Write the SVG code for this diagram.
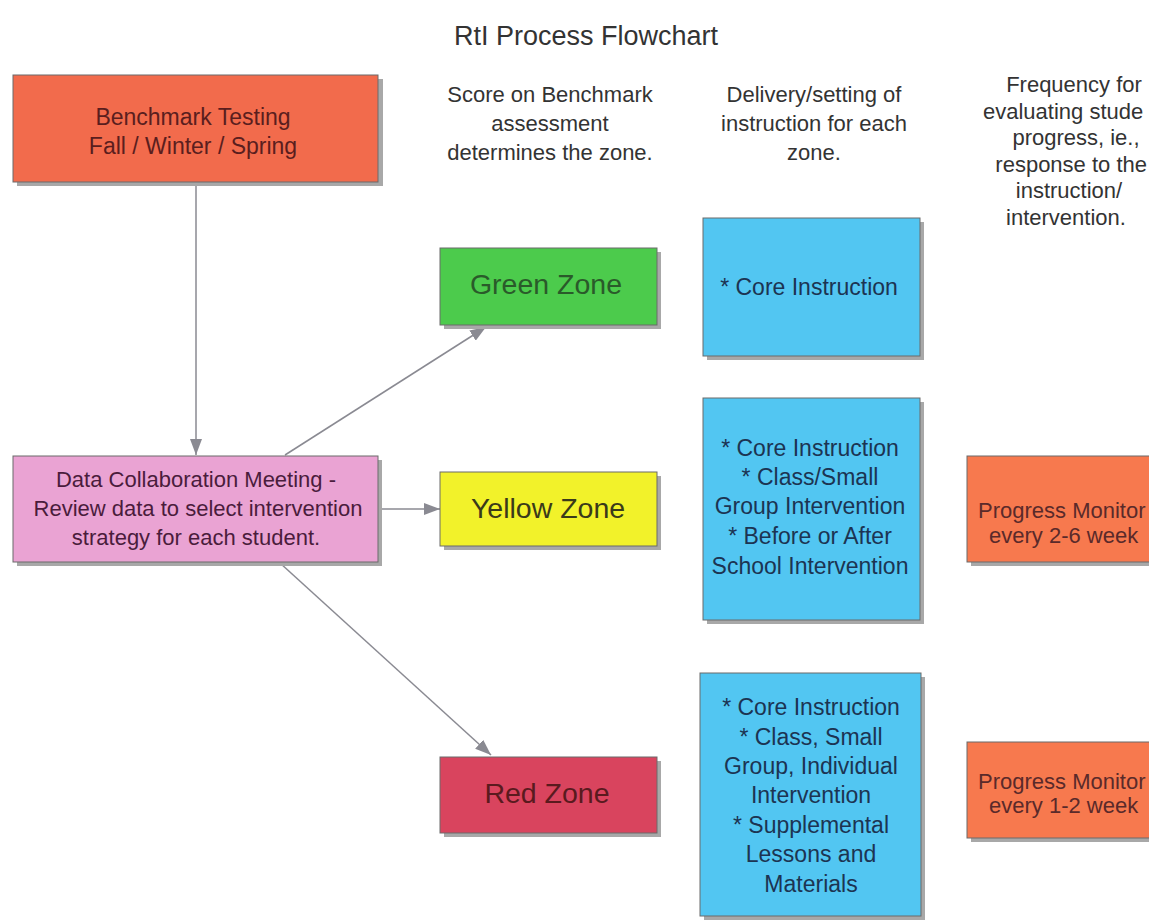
<svg xmlns="http://www.w3.org/2000/svg" width="1149" height="920" viewBox="0 0 1149 920">
<defs>
<marker id="ah" viewBox="0 0 16 12" refX="16" refY="6" markerWidth="16" markerHeight="12" markerUnits="userSpaceOnUse" orient="auto">
<path d="M0,0 L16,6 L0,12 Z" fill="#8a8a92"/>
</marker>
</defs>
<style>
text{font-family:"Liberation Sans",Arial,sans-serif;font-size:22px;text-anchor:middle}
.sh{fill:#a8a8a8}
.box{stroke:#6a6a6a;stroke-width:1}
.hdr{fill:#333}
.zone{font-size:28.5px}
.blue{fill:#52c6f2}
.bt{fill:#1c3452;font-size:23px}
.pm{fill:#f7794e}
.pmt{fill:#5a2a2a;text-anchor:start}
.conn{stroke:#8a8a92;stroke-width:1.5;fill:none;marker-end:url(#ah)}
</style>
<rect width="1149" height="920" fill="#fff"/>
<text id="title" x="586" y="45" class="hdr" style="font-size:27px">RtI Process Flowchart</text>

<g id="hdr-score">
<text x="550" y="102" class="hdr">Score on Benchmark</text>
<text x="550" y="131" class="hdr">assessment</text>
<text x="550" y="160" class="hdr">determines the zone.</text>
</g>
<g id="hdr-delivery">
<text x="814" y="102" class="hdr">Delivery/setting of</text>
<text x="814" y="131" class="hdr">instruction for each</text>
<text x="814" y="160" class="hdr">zone.</text>
</g>
<g id="hdr-frequency">
<text x="1074" y="92" class="hdr">Frequency for</text>
<text x="983" y="119" class="hdr" style="text-anchor:start">evaluating stude</text>
<text x="1076" y="145" class="hdr">progress, ie.,</text>
<text x="1147" y="172" class="hdr" style="text-anchor:end">response to the</text>
<text x="1069" y="198" class="hdr">instruction/</text>
<text x="1066" y="225" class="hdr">intervention.</text>
</g>

<g id="connectors">
<line class="conn" x1="196" y1="182" x2="196" y2="455"/>
<line class="conn" x1="378" y1="509" x2="440" y2="509"/>
<line class="conn" x1="285" y1="455" x2="486" y2="327"/>
<line class="conn" x1="280" y1="563" x2="491" y2="755"/>
</g>

<g id="benchmark">
<rect class="sh" x="17" y="79" width="366" height="107"/>
<rect class="box" x="13" y="75" width="365" height="107" fill="#f26b4c"/>
<text x="193" y="125" fill="#5a1e1e" style="font-size:23px">Benchmark Testing</text>
<text x="193" y="154" fill="#5a1e1e" style="font-size:23px">Fall / Winter / Spring</text>
</g>

<g id="data-meeting">
<rect class="sh" x="17" y="460" width="365" height="106"/>
<rect class="box" x="13" y="456" width="365" height="106" fill="#eaa3d3"/>
<text x="196" y="487" fill="#4a1c3c">Data Collaboration Meeting -</text>
<text x="198" y="516" fill="#4a1c3c">Review data to select intervention</text>
<text x="196" y="545" fill="#4a1c3c">strategy for each student.</text>
</g>

<g id="green-zone">
<rect class="sh" x="444" y="252" width="217" height="77"/>
<rect class="box" x="440" y="248" width="217" height="77" fill="#4ccb4c"/>
<text x="546" y="294" class="zone" fill="#2a5a2a">Green Zone</text>
</g>
<g id="yellow-zone">
<rect class="sh" x="444" y="476" width="217" height="74"/>
<rect class="box" x="440" y="472" width="217" height="74" fill="#f2f22a"/>
<text x="548" y="518" class="zone" fill="#3a3a1a">Yellow Zone</text>
</g>
<g id="red-zone">
<rect class="sh" x="444" y="761" width="217" height="76"/>
<rect class="box" x="440" y="757" width="217" height="76" fill="#d9445e"/>
<text x="547" y="803" class="zone" fill="#5a1a1e">Red Zone</text>
</g>

<g id="green-instruction">
<rect class="sh" x="707" y="222" width="217" height="138"/>
<rect class="box blue" x="703" y="218" width="217" height="138"/>
<text x="809" y="295" class="bt">* Core Instruction</text>
</g>
<g id="yellow-instruction">
<rect class="sh" x="707" y="402" width="217" height="222"/>
<rect class="box blue" x="703" y="398" width="217" height="222"/>
<text x="810" y="456" class="bt">* Core Instruction</text>
<text x="810" y="485" class="bt">* Class/Small</text>
<text x="810" y="514" class="bt">Group Intervention</text>
<text x="810" y="544" class="bt">* Before or After</text>
<text x="810" y="574" class="bt">School Intervention</text>
</g>
<g id="red-instruction">
<rect class="sh" x="704" y="677" width="221" height="243"/>
<rect class="box blue" x="700" y="673" width="221" height="243"/>
<text x="811" y="715" class="bt">* Core Instruction</text>
<text x="811" y="745" class="bt">* Class, Small</text>
<text x="811" y="774" class="bt">Group, Individual</text>
<text x="811" y="803" class="bt">Intervention</text>
<text x="811" y="833" class="bt">* Supplemental</text>
<text x="811" y="862" class="bt">Lessons and</text>
<text x="811" y="892" class="bt">Materials</text>
</g>

<g id="progress-yellow">
<rect class="sh" x="971" y="460" width="180" height="106"/>
<rect class="box pm" x="967" y="456" width="185" height="106"/>
<text x="978" y="518" class="pmt">Progress Monitor</text>
<text x="989" y="543" class="pmt">every 2-6 week</text>
</g>
<g id="progress-red">
<rect class="sh" x="971" y="746" width="180" height="96"/>
<rect class="box pm" x="967" y="742" width="185" height="96"/>
<text x="978" y="789" class="pmt">Progress Monitor</text>
<text x="989" y="813" class="pmt">every 1-2 week</text>
</g>
</svg>
